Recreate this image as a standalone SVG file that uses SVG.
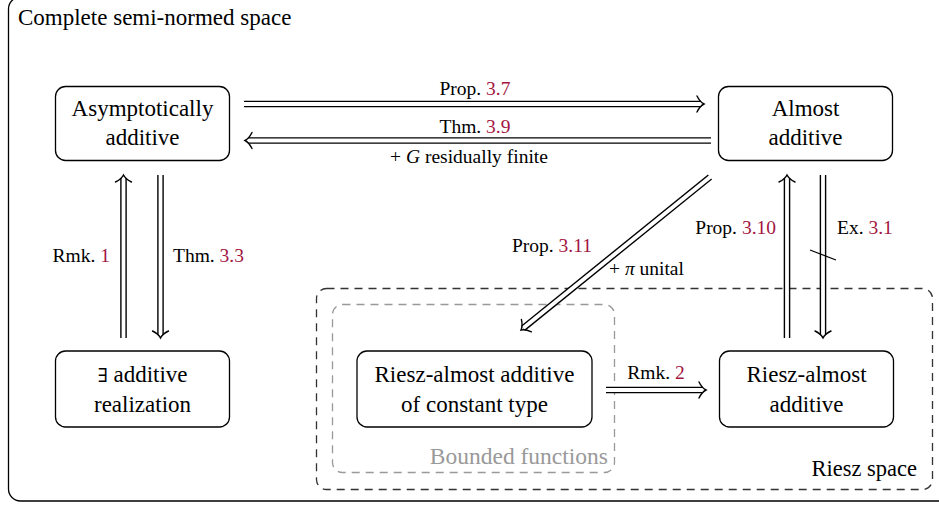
<svg xmlns="http://www.w3.org/2000/svg" xmlns:xlink="http://www.w3.org/1999/xlink" width="939" height="506" viewBox="0 0 939 506">
<style>
  text { font-family: "Liberation Serif", "Times New Roman", serif; fill: #000; }
  .node rect { fill: #fff; stroke: #000; stroke-width: 1.3; }
  .nt { font-size: 23px; text-anchor: middle; }
  .lbl { font-size: 19.5px; }
  .ref { fill: #a3153f; }
  .dblo { stroke: #000; stroke-width: 6.6; fill: none; }
  .dbli { stroke: #fff; stroke-width: 3.8; fill: none; }
  .head { stroke: #000; stroke-width: 1.4; fill: none; stroke-linecap: round; }
</style>
<defs>
  <path id="hd" class="head" d="M -7,-8 C -5,-4 -2,-1 0,0 C -2,1 -5,4 -7,8"/>
</defs>
<rect width="939" height="506" fill="#fff"/>

<g id="outer">
  <rect x="8.5" y="-3" width="960" height="504" rx="12" fill="none" stroke="#000" stroke-width="1.3"/>
  <text x="18" y="25" style="font-size:23px">Complete semi-normed space</text>
</g>

<g id="riesz-space">
  <rect x="316.5" y="288.5" width="616" height="201" rx="10" fill="none" stroke="#333" stroke-width="1.3" stroke-dasharray="8 6"/>
  <text x="917" y="476" text-anchor="end" style="font-size:22.5px">Riesz space</text>
</g>

<g id="bounded-functions">
  <rect x="332.5" y="304.5" width="282" height="168" rx="10" fill="none" stroke="#999" stroke-width="1.3" stroke-dasharray="8 6"/>
  <text x="608" y="464" text-anchor="end" style="font-size:23.5px;fill:#999">Bounded functions</text>
</g>

<g id="connectors">
  <!-- Prop 3.7 -->
  <path class="dblo" d="M 244,104 H 701"/><path class="dbli" d="M 243,104 H 701"/>
  <use xlink:href="#hd" transform="translate(704,104)"/>
  <!-- Thm 3.9 -->
  <path class="dblo" d="M 711,140.5 H 248"/><path class="dbli" d="M 712,140.5 H 248"/>
  <use xlink:href="#hd" transform="translate(245,140.5) rotate(180)"/>
  <!-- Rmk 1 up -->
  <path class="dblo" d="M 123.5,338 V 178"/><path class="dbli" d="M 123.5,339 V 178"/>
  <use xlink:href="#hd" transform="translate(123.5,175) rotate(-90)"/>
  <!-- Thm 3.3 down -->
  <path class="dblo" d="M 160.5,175 V 335"/><path class="dbli" d="M 160.5,174 V 335"/>
  <use xlink:href="#hd" transform="translate(160.5,338) rotate(90)"/>
  <!-- Prop 3.10 up -->
  <path class="dblo" d="M 787,338 V 178"/><path class="dbli" d="M 787,339 V 178"/>
  <use xlink:href="#hd" transform="translate(787,175) rotate(-90)"/>
  <!-- Ex 3.1 down (negated) -->
  <path class="dblo" d="M 823,175 V 335"/><path class="dbli" d="M 823,174 V 335"/>
  <use xlink:href="#hd" transform="translate(823,338) rotate(90)"/>
  <path d="M 810,250 L 836,260" stroke="#000" stroke-width="1.2"/>
  <!-- Prop 3.11 diagonal -->
  <path class="dblo" d="M 710,177 L 523.3,328.1"/><path class="dbli" d="M 711,176.2 L 523.3,328.1"/>
  <use xlink:href="#hd" transform="translate(521,330) rotate(141)"/>
  <!-- Rmk 2 -->
  <path class="dblo" d="M 606,390 H 703"/><path class="dbli" d="M 605,390 H 703"/>
  <use xlink:href="#hd" transform="translate(706,390)"/>

  <text class="lbl" x="475" y="95" text-anchor="middle">Prop. <tspan class="ref">3.7</tspan></text>
  <text class="lbl" x="475" y="133" text-anchor="middle">Thm. <tspan class="ref">3.9</tspan></text>
  <text class="lbl" x="469" y="163" text-anchor="middle">+ <tspan font-style="italic">G</tspan> residually finite</text>
  <text class="lbl" x="110" y="262" text-anchor="end">Rmk. <tspan class="ref">1</tspan></text>
  <text class="lbl" x="173" y="262">Thm. <tspan class="ref">3.3</tspan></text>
  <text class="lbl" x="776" y="234" text-anchor="end">Prop. <tspan class="ref">3.10</tspan></text>
  <text class="lbl" x="837" y="234">Ex. <tspan class="ref">3.1</tspan></text>
  <text class="lbl" x="512" y="252">Prop. <tspan class="ref">3.11</tspan></text>
  <text class="lbl" x="609" y="275">+ <tspan font-style="italic">π</tspan> unital</text>
  <text class="lbl" x="656" y="379" text-anchor="middle">Rmk. <tspan class="ref">2</tspan></text>
</g>

<g id="asymptotically-additive" class="node">
  <rect x="55.5" y="86.5" width="174" height="74" rx="10"/>
  <text class="nt" x="142.5" y="116">Asymptotically</text>
  <text class="nt" x="142.5" y="145">additive</text>
</g>
<g id="almost-additive" class="node">
  <rect x="718.5" y="86.5" width="174" height="74" rx="10"/>
  <text class="nt" x="805.5" y="116">Almost</text>
  <text class="nt" x="805.5" y="145">additive</text>
</g>
<g id="additive-realization" class="node">
  <rect x="55.5" y="351" width="174" height="76" rx="10"/>
  <text class="nt" x="142.5" y="382"><tspan font-family="'DejaVu Serif', serif" font-size="19px">∃</tspan> additive</text>
  <text class="nt" x="142.5" y="412">realization</text>
</g>
<g id="riesz-constant-type" class="node">
  <rect x="357" y="351" width="235" height="76" rx="10"/>
  <text class="nt" x="474.5" y="382">Riesz-almost additive</text>
  <text class="nt" x="474.5" y="412">of constant type</text>
</g>
<g id="riesz-almost-additive" class="node">
  <rect x="719.5" y="351" width="174" height="76" rx="10"/>
  <text class="nt" x="806.5" y="382">Riesz-almost</text>
  <text class="nt" x="806.5" y="412">additive</text>
</g>
</svg>
